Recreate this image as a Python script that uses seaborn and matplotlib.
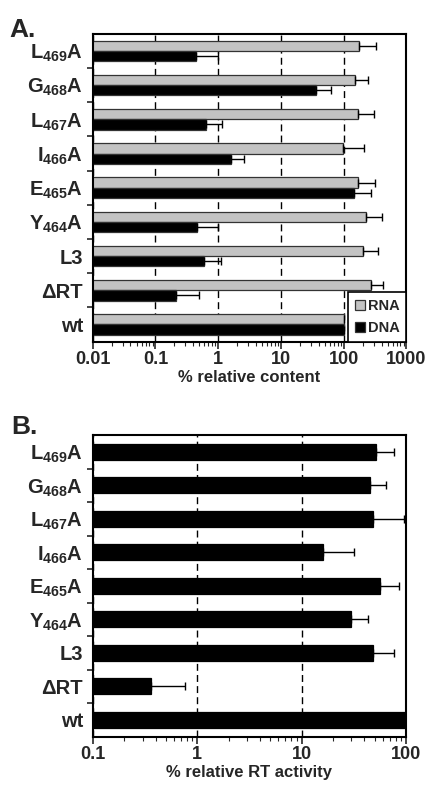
import numpy as np
import pandas as pd
import matplotlib
matplotlib.use("Agg")
import matplotlib.pyplot as plt
import seaborn as sns
from matplotlib.ticker import LogLocator, FuncFormatter, NullFormatter

# categories, top to bottom
mutants = ["L469A", "G468A", "L467A", "I466A", "E465A", "Y464A", "L3", "dRT", "wt"]
mutant_labels = ["L$_{469}$A", "G$_{468}$A", "L$_{467}$A", "I$_{466}$A", "E$_{465}$A",
                 "Y$_{464}$A", "L3", "\u0394RT", "wt"]

# panel A: % relative content (mean and upper end of error bar)
rna_content = [176, 154, 170, 98, 166, 230, 204, 268, 100]
rna_upper = [331, 245, 302, 211, 316, 400, 355, 415, np.nan]
dna_content = [0.44, 36, 0.64, 1.59, 147, 0.46, 0.60, 0.21, 100]
dna_upper = [0.98, 62, 1.13, 2.57, 277, 1.0, 1.1, 0.49, np.nan]

# panel B: % relative RT activity
rt_activity = [51, 45, 48, 16, 56, 30, 48, 0.36, 100]
rt_upper = [76, 64, 95, 32, 86, 43, 76, 0.76, np.nan]

sns.set_style("white")
plt.rcParams["font.family"] = ["Liberation Sans", "DejaVu Sans"]
plt.rcParams["font.weight"] = "bold"
plt.rcParams["mathtext.fontset"] = "custom"
plt.rcParams["mathtext.rm"] = "Liberation Sans:bold"
plt.rcParams["mathtext.it"] = "Liberation Sans:bold"
plt.rcParams["mathtext.bf"] = "Liberation Sans:bold"


def add_errors(ax, container, values, upper):
    values = np.array(values, dtype=float)
    upper = np.array(upper, dtype=float)
    centers = [p.get_y() + p.get_height() / 2 for p in container.patches]
    plus = upper - values
    ax.errorbar(values, centers, xerr=[np.zeros_like(plus), plus], fmt="none",
                ecolor="black", elinewidth=1.0, capsize=3, capthick=1.0, zorder=4)


def style_axis(ax, xmin, xmax, xlabel):
    ax.set_xlim(xmin, xmax)
    ax.set_ylim(8.5, -0.5)
    ax.xaxis.set_major_locator(LogLocator(base=10))
    ax.xaxis.set_minor_locator(LogLocator(base=10, subs=np.arange(2, 10)))
    ax.xaxis.set_major_formatter(FuncFormatter(lambda v, p: f"{v:g}"))
    ax.xaxis.set_minor_formatter(NullFormatter())
    ax.set_yticks(range(len(mutants)), mutant_labels)
    ax.set_yticks(np.arange(0.5, len(mutants) - 1), minor=True)
    ax.tick_params(axis="y", which="major", length=0, labelsize=14.5, pad=7)
    ax.tick_params(axis="y", which="minor", length=4, width=1.2, direction="out", left=True)
    ax.tick_params(axis="x", which="major", length=5, width=1.2, direction="out",
                   bottom=True, labelsize=13, pad=2)
    ax.tick_params(axis="x", which="minor", length=3, width=0.8, direction="out", bottom=True)
    ax.set_axisbelow(True)
    ax.xaxis.grid(True, which="major", linestyle=(0, (5, 3)), color="black", linewidth=1.0)
    ax.yaxis.grid(False)
    for s in ax.spines.values():
        s.set_visible(True)
        s.set_color("black")
        s.set_linewidth(1.5)
    ax.set_xlabel(xlabel, fontsize=12, fontweight="bold", labelpad=1)
    ax.set_ylabel("")


fig = plt.figure(figsize=(4.29, 7.87), dpi=100)
ax_a = fig.add_axes([0.216, 0.566, 0.7315, 0.391])
ax_b = fig.add_axes([0.216, 0.064, 0.7305, 0.383])

# ---- panel A ----
df_a = pd.DataFrame({
    "mutant": mutants * 2,
    "content": rna_content + dna_content,
    "type": ["RNA"] * len(mutants) + ["DNA"] * len(mutants),
})
ax_a.set_xscale("log")
sns.barplot(data=df_a, y="mutant", x="content", hue="type", order=mutants,
            hue_order=["RNA", "DNA"], palette={"RNA": "#c3c3c3", "DNA": "black"},
            orient="h", width=0.6, edgecolor="#333333", linewidth=0.9,
            errorbar=None, ax=ax_a)
add_errors(ax_a, ax_a.containers[0], rna_content, rna_upper)
add_errors(ax_a, ax_a.containers[1], dna_content, dna_upper)
style_axis(ax_a, 0.01, 1000, "% relative content")
handles, labels = ax_a.get_legend_handles_labels()
ax_a.legend(handles, labels, loc="lower right", frameon=True, fancybox=False,
            edgecolor="black", framealpha=1, borderaxespad=0.0, handlelength=0.7,
            handleheight=0.7, handletextpad=0.2, borderpad=0.45, labelspacing=0.55,
            prop={"weight": "bold", "size": 10.5})
ax_a.get_legend().get_frame().set_linewidth(1.2)

# ---- panel B ----
df_b = pd.DataFrame({"mutant": mutants, "activity": rt_activity})
ax_b.set_xscale("log")
sns.barplot(data=df_b, y="mutant", x="activity", order=mutants, color="black",
            orient="h", width=0.48, edgecolor="black", linewidth=0.9,
            errorbar=None, ax=ax_b)
add_errors(ax_b, ax_b.containers[0], rt_activity, rt_upper)
style_axis(ax_b, 0.1, 100, "% relative RT activity")

fig.text(0.022, 0.953, "A.", fontsize=19, fontweight="bold")
fig.text(0.026, 0.449, "B.", fontsize=19, fontweight="bold")

fig.savefig("out.png", dpi=100)
